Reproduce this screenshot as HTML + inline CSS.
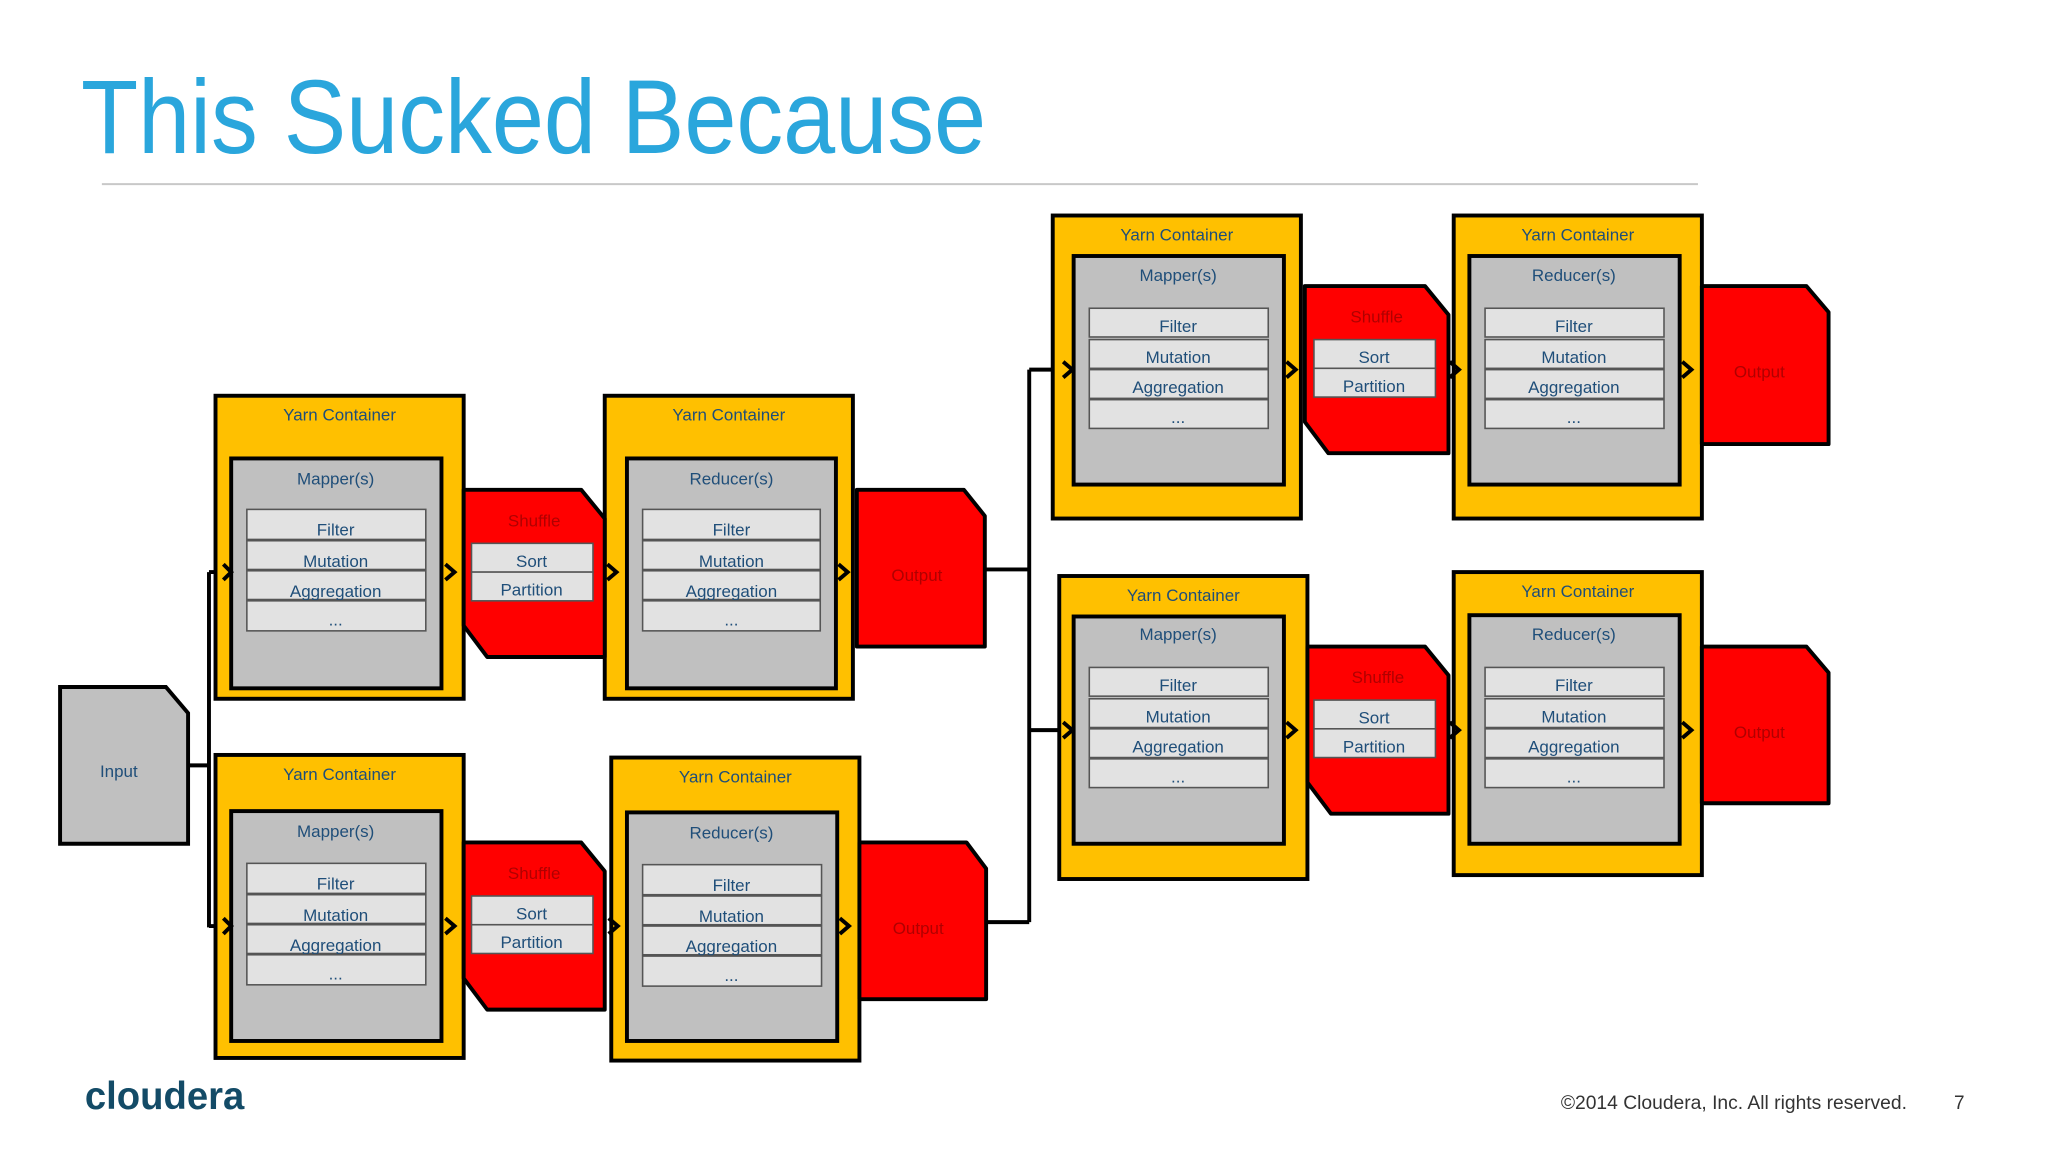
<!DOCTYPE html>
<html><head><meta charset="utf-8"><style>
html,body{margin:0;padding:0;background:#fff;}
svg{display:block;}
text{font-family:"Liberation Sans",Arial,sans-serif;}
.t{font-size:13px;fill:#1f4e79;text-anchor:middle;}
.r{font-size:13px;fill:#b00000;text-anchor:middle;}
.o{fill:#ffc000;stroke:#000;stroke-width:3;}
.i{fill:#c0c0c0;stroke:#000;stroke-width:3;}
.w{fill:#e2e2e2;stroke:#555;stroke-width:1.2;}
.red{fill:#ff0000;stroke:#000;stroke-width:3;stroke-linejoin:round;}
.ln{stroke:#000;stroke-width:3;fill:none;}
.ar{stroke:#000;stroke-width:3;fill:none;}
</style></head><body>
<svg width="2048" height="1152" viewBox="0 0 1568 882" xmlns="http://www.w3.org/2000/svg">
<rect width="1568" height="882" fill="#fff"/>
<text x="62" y="117" font-size="80" fill="#2aa6dc" textLength="693" lengthAdjust="spacingAndGlyphs">This Sucked Because</text>
<line x1="78" y1="141" x2="1300" y2="141" stroke="#c8c8c8" stroke-width="1.5"/>

<!-- connectors -->
<path class="ln" d="M145,586 H160 M160,438 V710 M160,438 H172 M160,709 H172"/>
<path class="ln" d="M754,436 H788 M755,706 H788 M788,283 V706 M788,283 H817 M788,559 H817"/>

<!-- Input -->
<polygon class="i" points="46,526 127,526 144,546 144,646 46,646"/>
<text class="t" x="91" y="595">Input</text>

<!-- C1 -->
<g transform="translate(165,303)">
<rect class="o" x="0" y="0" width="190" height="232"/>
<text class="t" x="95" y="19">Yarn Container</text>
<g transform="translate(12,48)">
<rect class="i" x="0" y="0" width="161" height="176"/>
<text class="t" x="80" y="20">Mapper(s)</text>
<rect class="w" x="12" y="39" width="137" height="23"/><text class="t" x="80" y="59">Filter</text>
<rect class="w" x="12" y="63" width="137" height="22"/><text class="t" x="80" y="83">Mutation</text>
<rect class="w" x="12" y="86" width="137" height="22"/><text class="t" x="80" y="106">Aggregation</text>
<rect class="w" x="12" y="109" width="137" height="23"/><text class="t" x="80" y="128" font-size="10">...</text>
</g></g>
<!-- C2 -->
<g transform="translate(463,303)">
<rect class="o" x="0" y="0" width="190" height="232"/>
<text class="t" x="95" y="19">Yarn Container</text>
<g transform="translate(17,48)">
<rect class="i" x="0" y="0" width="160" height="176"/>
<text class="t" x="80" y="20">Reducer(s)</text>
<rect class="w" x="12" y="39" width="136" height="23"/><text class="t" x="80" y="59">Filter</text>
<rect class="w" x="12" y="63" width="136" height="22"/><text class="t" x="80" y="83">Mutation</text>
<rect class="w" x="12" y="86" width="136" height="22"/><text class="t" x="80" y="106">Aggregation</text>
<rect class="w" x="12" y="109" width="136" height="23"/><text class="t" x="80" y="128" font-size="10">...</text>
</g></g>
<!-- Shuffle 1 -->
<g transform="translate(355,375)">
<polygon class="red" points="0,0 90,0 108,22 108,128 18,128 0,104"/>
<text class="r" x="54" y="28">Shuffle</text>
<rect class="w" x="6" y="41" width="93" height="22"/><text class="t" x="52" y="59">Sort</text>
<rect class="w" x="6" y="63" width="93" height="22"/><text class="t" x="52" y="81">Partition</text>
</g>
<g transform="translate(656,375)">
<polygon class="red" points="0,0 82,0 98,20 98,120 0,120"/>
<text class="r" x="46" y="70">Output</text>
</g>

<!-- C3 -->
<g transform="translate(165,578)">
<rect class="o" x="0" y="0" width="190" height="232"/>
<text class="t" x="95" y="19">Yarn Container</text>
<g transform="translate(12,43)">
<rect class="i" x="0" y="0" width="161" height="176"/>
<text class="t" x="80" y="20">Mapper(s)</text>
<rect class="w" x="12" y="40" width="137" height="23"/><text class="t" x="80" y="60">Filter</text>
<rect class="w" x="12" y="64" width="137" height="22"/><text class="t" x="80" y="84">Mutation</text>
<rect class="w" x="12" y="87" width="137" height="22"/><text class="t" x="80" y="107">Aggregation</text>
<rect class="w" x="12" y="110" width="137" height="23"/><text class="t" x="80" y="129" font-size="10">...</text>
</g></g>
<!-- C4 -->
<g transform="translate(468,580)">
<rect class="o" x="0" y="0" width="190" height="232"/>
<text class="t" x="95" y="19">Yarn Container</text>
<g transform="translate(12,42)">
<rect class="i" x="0" y="0" width="161" height="175"/>
<text class="t" x="80" y="20">Reducer(s)</text>
<rect class="w" x="12" y="40" width="137" height="23"/><text class="t" x="80" y="60">Filter</text>
<rect class="w" x="12" y="64" width="137" height="22"/><text class="t" x="80" y="84">Mutation</text>
<rect class="w" x="12" y="87" width="137" height="22"/><text class="t" x="80" y="107">Aggregation</text>
<rect class="w" x="12" y="110" width="137" height="23"/><text class="t" x="80" y="129" font-size="10">...</text>
</g></g>
<g transform="translate(355,645)">
<polygon class="red" points="0,0 90,0 108,22 108,128 18,128 0,104"/>
<text class="r" x="54" y="28">Shuffle</text>
<rect class="w" x="6" y="41" width="93" height="22"/><text class="t" x="52" y="59">Sort</text>
<rect class="w" x="6" y="63" width="93" height="22"/><text class="t" x="52" y="81">Partition</text>
</g>
<g transform="translate(658,645)">
<polygon class="red" points="0,0 82,0 97,20 97,120 0,120"/>
<text class="r" x="45" y="70">Output</text>
</g>

<!-- C5 -->
<g transform="translate(806,165)">
<rect class="o" x="0" y="0" width="190" height="232"/>
<text class="t" x="95" y="19">Yarn Container</text>
<g transform="translate(16,31)">
<rect class="i" x="0" y="0" width="161" height="175"/>
<text class="t" x="80" y="19">Mapper(s)</text>
<rect class="w" x="12" y="40" width="137" height="22"/><text class="t" x="80" y="58">Filter</text>
<rect class="w" x="12" y="64" width="137" height="22"/><text class="t" x="80" y="82">Mutation</text>
<rect class="w" x="12" y="87" width="137" height="22"/><text class="t" x="80" y="105">Aggregation</text>
<rect class="w" x="12" y="110" width="137" height="22"/><text class="t" x="80" y="128" font-size="10">...</text>
</g></g>
<g transform="translate(1113,165)">
<rect class="o" x="0" y="0" width="190" height="232"/>
<text class="t" x="95" y="19">Yarn Container</text>
<g transform="translate(12,31)">
<rect class="i" x="0" y="0" width="161" height="175"/>
<text class="t" x="80" y="19">Reducer(s)</text>
<rect class="w" x="12" y="40" width="137" height="22"/><text class="t" x="80" y="58">Filter</text>
<rect class="w" x="12" y="64" width="137" height="22"/><text class="t" x="80" y="82">Mutation</text>
<rect class="w" x="12" y="87" width="137" height="22"/><text class="t" x="80" y="105">Aggregation</text>
<rect class="w" x="12" y="110" width="137" height="22"/><text class="t" x="80" y="128" font-size="10">...</text>
</g></g>
<g transform="translate(999,219)">
<polygon class="red" points="0,0 92,0 110,22 110,128 18,128 0,104"/>
<text class="r" x="55" y="28">Shuffle</text>
<rect class="w" x="7" y="41" width="93" height="22"/><text class="t" x="53" y="59">Sort</text>
<rect class="w" x="7" y="63" width="93" height="22"/><text class="t" x="53" y="81">Partition</text>
</g>
<g transform="translate(1303,219)">
<polygon class="red" points="0,0 80,0 97,20 97,121 0,121"/>
<text class="r" x="44" y="70">Output</text>
</g>

<!-- C7 -->
<g transform="translate(811,441)">
<rect class="o" x="0" y="0" width="190" height="232"/>
<text class="t" x="95" y="19">Yarn Container</text>
<g transform="translate(11,31)">
<rect class="i" x="0" y="0" width="161" height="174"/>
<text class="t" x="80" y="18">Mapper(s)</text>
<rect class="w" x="12" y="39" width="137" height="22"/><text class="t" x="80" y="57">Filter</text>
<rect class="w" x="12" y="63" width="137" height="22"/><text class="t" x="80" y="81">Mutation</text>
<rect class="w" x="12" y="86" width="137" height="22"/><text class="t" x="80" y="104">Aggregation</text>
<rect class="w" x="12" y="109" width="137" height="22"/><text class="t" x="80" y="127" font-size="10">...</text>
</g></g>
<g transform="translate(1113,438)">
<rect class="o" x="0" y="0" width="190" height="232"/>
<text class="t" x="95" y="19">Yarn Container</text>
<g transform="translate(12,33)">
<rect class="i" x="0" y="0" width="161" height="175"/>
<text class="t" x="80" y="19">Reducer(s)</text>
<rect class="w" x="12" y="40" width="137" height="22"/><text class="t" x="80" y="58">Filter</text>
<rect class="w" x="12" y="64" width="137" height="22"/><text class="t" x="80" y="82">Mutation</text>
<rect class="w" x="12" y="87" width="137" height="22"/><text class="t" x="80" y="105">Aggregation</text>
<rect class="w" x="12" y="110" width="137" height="22"/><text class="t" x="80" y="128" font-size="10">...</text>
</g></g>
<g transform="translate(1001,495)">
<polygon class="red" points="0,0 90,0 108,22 108,128 18,128 0,104"/>
<text class="r" x="54" y="28">Shuffle</text>
<rect class="w" x="5" y="41" width="93" height="22"/><text class="t" x="51" y="59">Sort</text>
<rect class="w" x="5" y="63" width="93" height="22"/><text class="t" x="51" y="81">Partition</text>
</g>
<g transform="translate(1303,495)">
<polygon class="red" points="0,0 80,0 97,20 97,120 0,120"/>
<text class="r" x="44" y="70">Output</text>
</g>

<!-- arrowheads -->
<g class="ar">
<path d="M171,432 l6,6 l-6,6"/><path d="M171,703 l6,6 l-6,6"/>
<path d="M341,432 l7,6 l-7,6"/><path d="M465,432 l7,6 l-7,6"/><path d="M642,432 l7,6 l-7,6"/>
<path d="M341,703 l7,6 l-7,6"/><path d="M466,703 l7,6 l-7,6"/><path d="M643,703 l7,6 l-7,6"/>
<path d="M814,277 l7,6 l-7,6"/><path d="M985,277 l7,6 l-7,6"/><path d="M1110,277 l7,6 l-7,6"/><path d="M1288,277 l7,6 l-7,6"/>
<path d="M814,553 l7,6 l-7,6"/><path d="M985,553 l7,6 l-7,6"/><path d="M1110,553 l7,6 l-7,6"/><path d="M1288,553 l7,6 l-7,6"/>
</g>

<text x="65" y="849" font-size="30" font-weight="bold" fill="#134b67" textLength="122" lengthAdjust="spacingAndGlyphs">cloudera</text>
<text x="1195" y="849" font-size="14.5" fill="#333" textLength="265" lengthAdjust="spacingAndGlyphs">©2014 Cloudera, Inc. All rights reserved.</text>
<text x="1496" y="849" font-size="14.5" fill="#333">7</text>
</svg>
</body></html>
